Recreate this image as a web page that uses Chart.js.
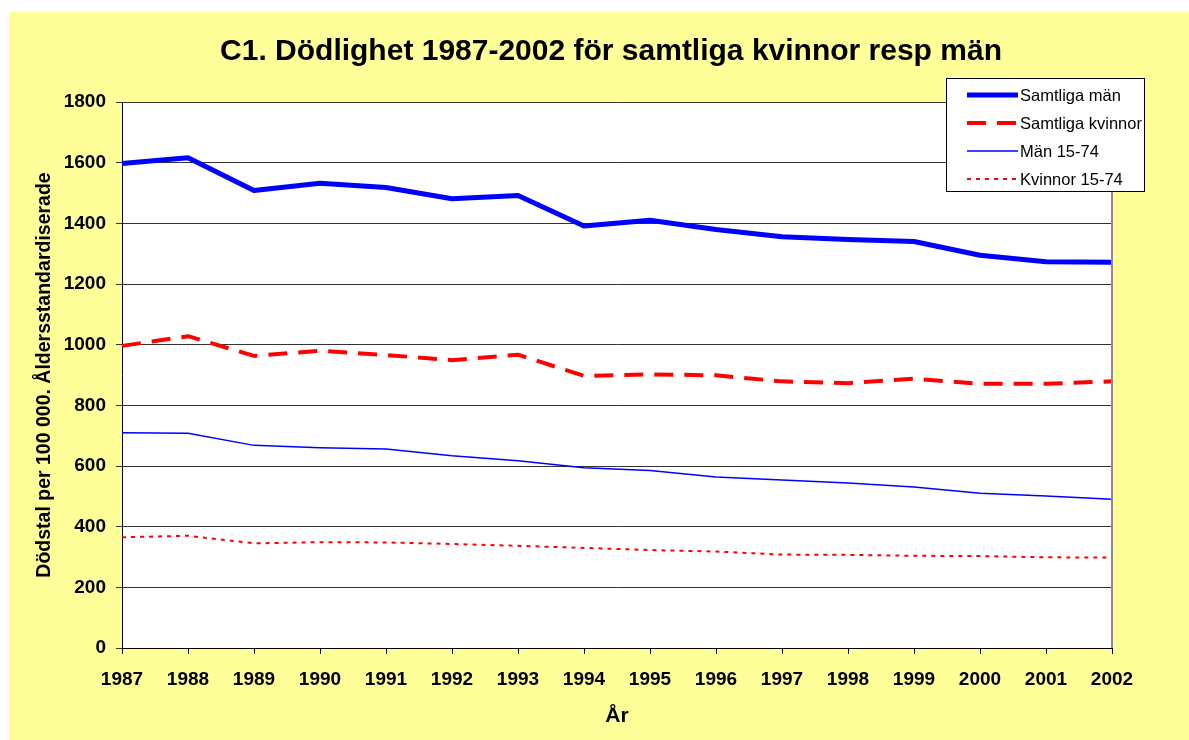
<!DOCTYPE html>
<html lang="sv">
<head>
<meta charset="utf-8">
<title>C1. Dödlighet 1987-2002</title>
<script src="https://cdn.jsdelivr.net/npm/chart.js@4.4.1/dist/chart.umd.min.js"></script>
<style>
  html, body { margin: 0; padding: 0; background: #fff; }
  canvas { display: block; }
</style>
</head>
<body>
<canvas id="chart" width="1189" height="740"></canvas>
<script>
// Data
const ar = ['1987', '1988', '1989', '1990', '1991', '1992', '1993', '1994',
  '1995', '1996', '1997', '1998', '1999', '2000', '2001', '2002'];
const samtligaMan = [1597, 1616, 1508, 1532, 1518, 1481, 1492, 1391,
  1410, 1380, 1356, 1347, 1340, 1295, 1273, 1272];
const samtligaKvinnor = [996, 1028, 963, 980, 966, 949, 967, 897,
  902, 899, 879, 873, 888, 871, 871, 879];
const man1574 = [710, 708, 668, 660, 656, 634, 617, 594,
  585, 564, 554, 544, 531, 510, 501, 490];
const kvinnor1574 = [365, 370, 345, 349, 348, 343, 337, 330,
  323, 318, 308, 307, 304, 303, 299, 298];
const yTicks = [0, 200, 400, 600, 800, 1000, 1200, 1400, 1600, 1800];

const rubrik = 'C1. Dödlighet 1987-2002 för samtliga kvinnor resp män';
const yRubrik = 'Dödstal per 100 000. Åldersstandardiserade';
const xRubrik = 'År';

const FONT = '"Liberation Sans", Arial, sans-serif';

// yellow background, white plot area, title, right border and legend
const ramPlugin = {
  id: 'ram',
  beforeDraw(chart) {
    const { ctx, chartArea: a } = chart;
    ctx.save();
    ctx.fillStyle = '#ffff99';
    ctx.fillRect(9, 12, chart.width - 9, chart.height - 12);
    ctx.fillStyle = '#ffffff';
    ctx.fillRect(a.left, a.top, a.right - a.left, a.bottom - a.top);
    ctx.restore();
  },
  afterDraw(chart) {
    const { ctx, chartArea: a } = chart;
    ctx.save();
    // grey right border of the plot
    ctx.strokeStyle = '#8c8c8c';
    ctx.lineWidth = 2;
    ctx.beginPath();
    ctx.moveTo(a.right, a.top);
    ctx.lineTo(a.right, a.bottom);
    ctx.stroke();

    // title
    ctx.fillStyle = '#000';
    ctx.font = 'bold 30px ' + FONT;
    ctx.textAlign = 'center';
    ctx.textBaseline = 'middle';
    ctx.fillText(rubrik, 611, 52);

    // legend
    const lx = 946, ly = 78, lw = 198, lh = 113;
    ctx.fillStyle = '#fff';
    ctx.fillRect(lx, ly, lw, lh);
    ctx.strokeStyle = '#000';
    ctx.lineWidth = 1;
    ctx.strokeRect(lx + 0.5, ly + 0.5, lw, lh);
    ctx.font = '16.5px ' + FONT;
    ctx.textAlign = 'left';
    chart.data.datasets.forEach((ds, i) => {
      const y = ly + 17 + i * 28;
      ctx.strokeStyle = ds.borderColor;
      ctx.lineWidth = ds.borderWidth;
      ctx.setLineDash(ds.borderDash || []);
      ctx.beginPath();
      ctx.moveTo(lx + 21, y);
      ctx.lineTo(lx + 72, y);
      ctx.stroke();
      ctx.setLineDash([]);
      ctx.fillStyle = '#000';
      ctx.fillText(ds.label, lx + 74, y + 1);
    });
    ctx.restore();
  }
};

new Chart(document.getElementById('chart'), {
  type: 'line',
  data: {
    labels: ar,
    datasets: [
      { label: 'Samtliga män', data: samtligaMan, borderColor: '#0000ff', borderWidth: 5 },
      { label: 'Samtliga kvinnor', data: samtligaKvinnor, borderColor: '#ff0000', borderWidth: 4, borderDash: [19, 11] },
      { label: 'Män 15-74', data: man1574, borderColor: '#0000ff', borderWidth: 1.5 },
      { label: 'Kvinnor 15-74', data: kvinnor1574, borderColor: '#ff0000', borderWidth: 2, borderDash: [4, 5] }
    ]
  },
  options: {
    responsive: false,
    animation: false,
    devicePixelRatio: 1,
    layout: { padding: { left: 9, right: 77, top: 102, bottom: 0 } },
    elements: {
      point: { radius: 0 },
      line: { tension: 0, fill: false, borderCapStyle: 'butt', borderJoinStyle: 'round' }
    },
    plugins: {
      legend: { display: false },
      title: { display: false },
      tooltip: { enabled: false }
    },
    scales: {
      x: {
        offset: false,
        grid: { display: true, drawOnChartArea: false, color: '#000', tickLength: 6 },
        border: { color: '#000', width: 1 },
        ticks: {
          color: '#000', font: { family: FONT, size: 19, weight: 'bold' },
          maxRotation: 0, autoSkip: false, padding: 14
        },
        title: {
          display: true, text: xRubrik, color: '#000',
          font: { family: FONT, size: 21, weight: 'bold' },
          padding: { top: 0, bottom: 11 }
        },
        afterFit(s) { s.height = 92; }
      },
      y: {
        min: 0, max: 1800,
        afterBuildTicks(s) { s.ticks = yTicks.map(v => ({ value: v })); },
        grid: { color: '#333', tickLength: 6, lineWidth: 1 },
        border: { color: '#000', width: 1 },
        ticks: {
          color: '#000', font: { family: FONT, size: 19, weight: 'bold' },
          padding: 10,
          callback: v => String(v)
        },
        title: {
          display: true, text: yRubrik, color: '#000',
          font: { family: FONT, size: 19.5, weight: 'bold' },
          padding: { top: 24, bottom: 0 }
        },
        afterFit(s) { s.width = 113; }
      }
    }
  },
  plugins: [ramPlugin]
});
</script>
</body>
</html>
